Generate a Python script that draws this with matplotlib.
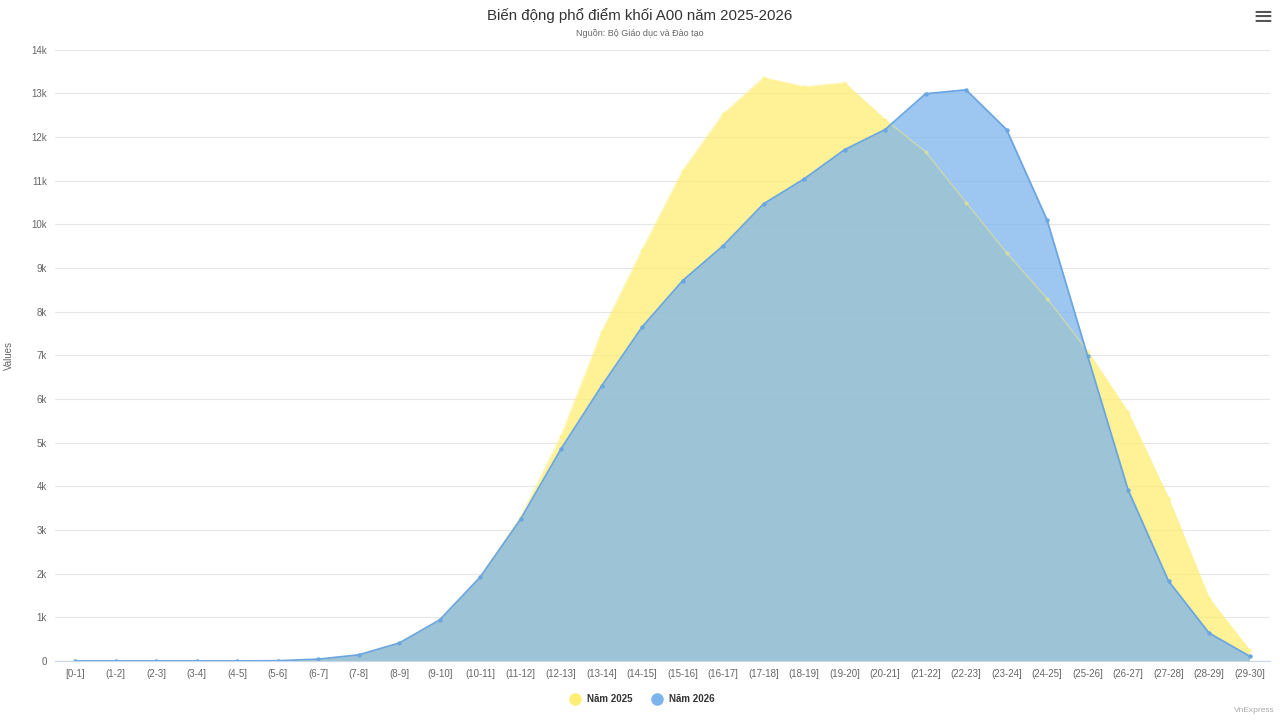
import matplotlib.pyplot as plt
import numpy as np

plt.rcParams['font.family'] = ['Liberation Sans', 'DejaVu Sans']

categories = ['[0-1]', '(1-2]', '(2-3]', '(3-4]', '(4-5]', '(5-6]', '(6-7]', '(7-8]',
              '(8-9]', '(9-10]', '(10-11]', '(11-12]', '(12-13]', '(13-14]', '(14-15]',
              '(15-16]', '(16-17]', '(17-18]', '(18-19]', '(19-20]', '(20-21]', '(21-22]',
              '(22-23]', '(23-24]', '(24-25]', '(25-26]', '(26-27]', '(27-28]', '(28-29]',
              '(29-30]']

nam_2025 = [0, 0, 0, 0, 0, 5, 30, 140, 410, 940, 1930, 3300, 5160, 7540, 9420,
            11230, 12530, 13360, 13150, 13240, 12400, 11660, 10500, 9350, 8300,
            7100, 5700, 3730, 1440, 250]
nam_2026 = [0, 0, 0, 0, 0, 5, 40, 140, 410, 940, 1920, 3250, 4860, 6300, 7650,
            8710, 9510, 10470, 11040, 11710, 12170, 12990, 13080, 12170, 10100,
            6990, 3920, 1830, 640, 110]

yellow = '#FFEE73'
blue = '#7cb5ec'

fig = plt.figure(figsize=(12.8, 7.2), dpi=100)
ax = fig.add_axes([0.043, 0.082, 0.949, 0.849])

x = np.arange(len(categories))
# 2025 first; its line is faint so it fades under the 2026 area
ax.fill_between(x, nam_2025, 0, color=yellow, alpha=0.75, lw=0)
ax.plot(x, nam_2025, color=yellow, alpha=0.45, lw=1, marker='o', ms=3, mec='none')
ax.fill_between(x, nam_2026, 0, color=blue, alpha=0.75, lw=0)
ax.plot(x, nam_2026, color='#6aa6e2', lw=1.3, marker='o', ms=3.2, mec='none')

ax.set_xlim(-0.5, len(categories) - 0.5)
ax.set_ylim(0, 14000)
ax.set_yticks(np.arange(0, 14001, 1000))
ax.set_yticklabels(['0'] + [f'{i}k' for i in range(1, 15)])
ax.set_xticks(x)
ax.set_xticklabels(categories)
ax.tick_params(axis='both', length=0, labelsize=7, colors='#666666', pad=6)
ax.grid(axis='y', color='#e6e6e6', lw=0.8)
ax.set_axisbelow(True)
for s in ['top', 'right', 'left']:
    ax.spines[s].set_visible(False)
ax.spines['bottom'].set_color('#ccd6eb')
ax.set_ylabel('Values', fontsize=7, color='#666666', labelpad=12)

fig.text(0.5, 0.979, 'Biến động phổ điểm khối A00 năm 2025-2026', ha='center', va='center',
         fontsize=10.8, color='#333333')
fig.text(0.5, 0.954, 'Nguồn: Bộ Giáo dục và Đào tạo', ha='center', va='center',
         fontsize=6.5, color='#666666')
fig.text(0.987, 0.976, '≡', ha='center', va='center', fontsize=18, color='#555555',
         family='DejaVu Sans')
fig.text(0.996, 0.008, 'VnExpress', ha='right', va='bottom', fontsize=6, color='#aaaaaa')

leg = ax.legend(handles=[
    plt.Line2D([], [], ls='', marker='o', ms=8, color=yellow, label='Năm 2025'),
    plt.Line2D([], [], ls='', marker='o', ms=8, color=blue, label='Năm 2026')],
    loc='center', bbox_to_anchor=(0.5, 0.029), bbox_transform=fig.transFigure,
    ncol=2, frameon=False, handletextpad=0.2, columnspacing=1.5,
    prop={'weight': 'bold', 'size': 7})
for t in leg.get_texts():
    t.set_color('#333333')

fig.savefig('out.png', dpi=100)
